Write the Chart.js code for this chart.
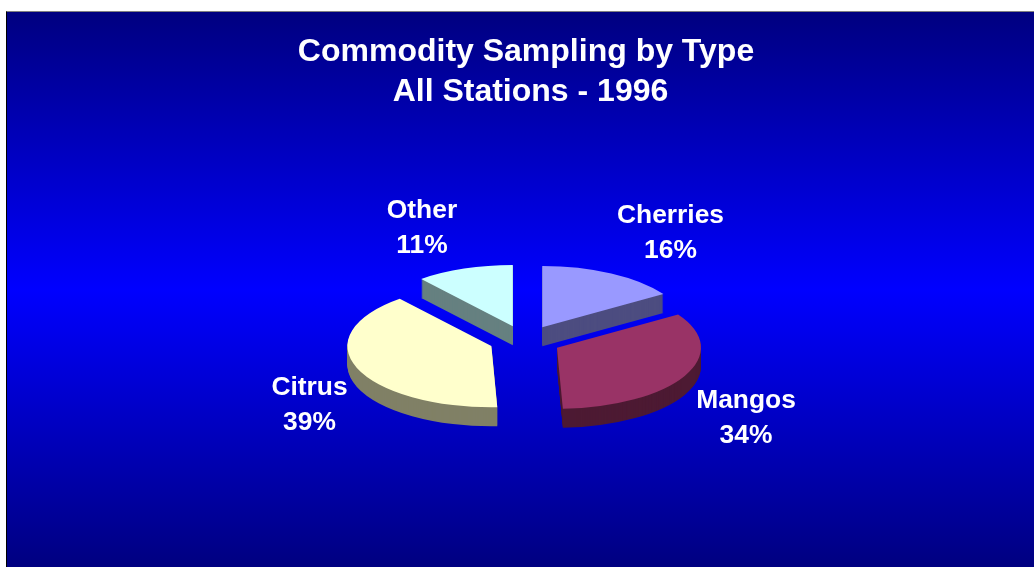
<!DOCTYPE html>
<html>
<head>
<meta charset="utf-8">
<title>Commodity Sampling by Type</title>
<script src="https://cdn.jsdelivr.net/npm/chart.js@4"></script>
<style>
    html, body { margin: 0; padding: 0; background: #fff; overflow: hidden; }
    #panel {
        position: absolute; left: 6px; top: 11px; width: 1028px; height: 556px;
        box-sizing: border-box;
        border-top: 1px solid #808080;
        border-left: 1px solid #000;
        background: linear-gradient(to bottom, #000080 0%, #0000ff 50%, #000080 100%);
    }
    #chart { position: absolute; left: 0; top: 0; }
</style>
</head>
<body>
<div id="panel"></div>
<canvas id="chart" width="1034" height="567"></canvas>
<script>
const titleLines = ['Commodity Sampling by Type', ' All Stations - 1996'];
const categories = ['Cherries', 'Mangos', 'Citrus', 'Other'];
// slice sizes, the printed labels are separate
const shares = [15.8, 33.2, 39.4, 10.9];
const percentLabels = ['16%', '34%', '39%', '11%'];
const topColors = ['#9999ff', '#993366', '#ffffcc', '#ccffff'];
const sideColors = ['#4d4d80', '#4d1a33', '#808066', '#668080'];
// centre of each two line label
const labelX = [670.5, 746, 309.5, 422];
const labelY = [233, 418, 405, 228];

const squash = 0.425;
const depth = 19;
const explode = 36;
const pieCentreX = 525;
const pieCentreY = 340.6;

// squash the pie around its centre and push the slice out along its middle angle
function placeSlice(ctx, arc, drop) {
    const mid = (arc.startAngle + arc.endAngle) / 2;
    ctx.translate(pieCentreX + Math.cos(mid) * explode, pieCentreY + drop + Math.sin(mid) * explode * squash);
    ctx.scale(1, squash);
    ctx.translate(-arc.x, -arc.y);
}

// fake 3d: stack darker copies of each slice under it, then the top face
const tiltedPie = {
    id: 'tiltedPie',
    beforeDatasetDraw(chart) {
        const ctx = chart.ctx;
        const arcs = chart.getDatasetMeta(0).data;
        arcs.forEach((arc, i) => {
            arc.options.backgroundColor = sideColors[i];
            for (let d = depth; d > 0; d--) {
                ctx.save();
                placeSlice(ctx, arc, d);
                arc.draw(ctx);
                ctx.restore();
            }
            arc.options.backgroundColor = topColors[i];
            ctx.save();
            placeSlice(ctx, arc, 0);
            arc.draw(ctx);
            ctx.restore();
        });
        return false;
    },
    afterDraw(chart) {
        const ctx = chart.ctx;
        ctx.save();
        ctx.fillStyle = '#fff';
        ctx.font = 'bold 26.4px "Liberation Sans", Arial, sans-serif';
        ctx.textAlign = 'center';
        ctx.textBaseline = 'middle';
        categories.forEach((name, i) => {
            ctx.fillText(name, labelX[i], labelY[i] - 17.5);
            ctx.fillText(percentLabels[i], labelX[i], labelY[i] + 17.5);
        });
        ctx.restore();
    }
};

new Chart(document.getElementById('chart'), {
    type: 'pie',
    plugins: [tiltedPie],
    data: {
        labels: categories,
        datasets: [{
            data: shares,
            backgroundColor: topColors,
            borderWidth: 0
        }]
    },
    options: {
        responsive: false,
        animation: false,
        events: [],
        radius: 144,
        layout: { padding: { left: 18 } },
        plugins: {
            legend: { display: false },
            tooltip: { enabled: false },
            title: {
                display: true,
                text: titleLines,
                color: '#fff',
                font: { family: '"Liberation Sans", Arial, sans-serif', size: 32, weight: 'bold', lineHeight: 1.25 },
                padding: { top: 32, bottom: 0 }
            }
        }
    }
});
</script>
</body>
</html>
